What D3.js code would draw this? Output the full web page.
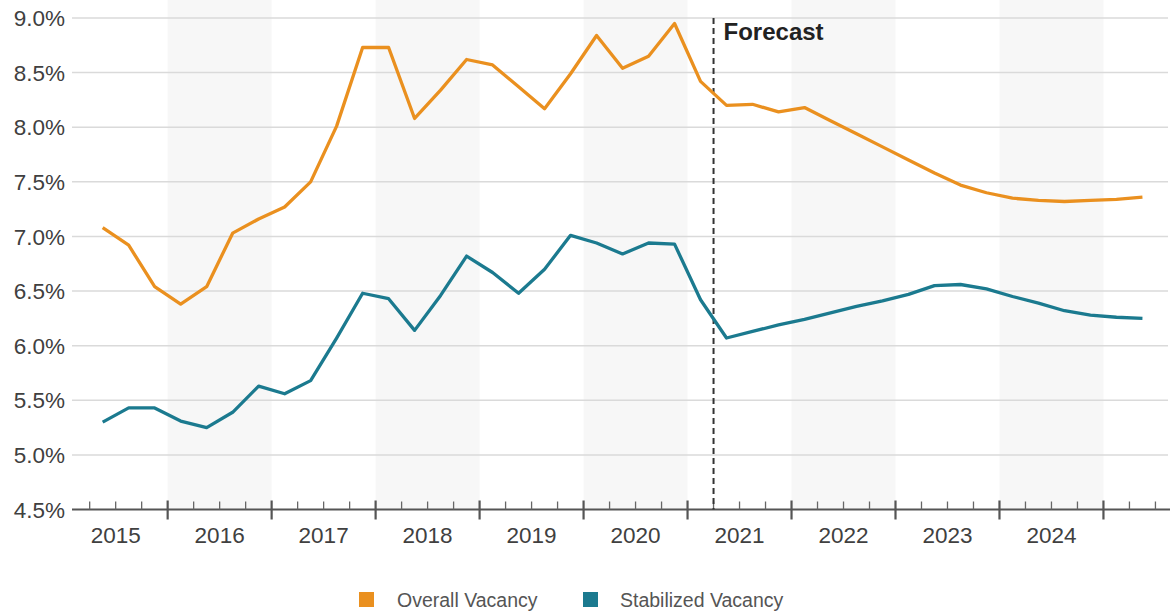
<!DOCTYPE html>
<html>
<head>
<meta charset="utf-8">
<script src="https://cdn.jsdelivr.net/npm/d3@7"></script>
<style>
  html, body { margin: 0; padding: 0; background: #fff; }
  svg { display: block; font-family: "Liberation Sans", Arial, sans-serif; }
</style>
</head>
<body>
<svg id="chart" width="1172" height="616"></svg>
<script>
// ---------- data ----------
const quarters = [
  "2015 Q2","2015 Q3","2015 Q4",
  "2016 Q1","2016 Q2","2016 Q3","2016 Q4",
  "2017 Q1","2017 Q2","2017 Q3","2017 Q4",
  "2018 Q1","2018 Q2","2018 Q3","2018 Q4",
  "2019 Q1","2019 Q2","2019 Q3","2019 Q4",
  "2020 Q1","2020 Q2","2020 Q3","2020 Q4",
  "2021 Q1","2021 Q2","2021 Q3","2021 Q4",
  "2022 Q1","2022 Q2","2022 Q3","2022 Q4",
  "2023 Q1","2023 Q2","2023 Q3","2023 Q4",
  "2024 Q1","2024 Q2","2024 Q3","2024 Q4",
  "2025 Q1","2025 Q2"
];
const overallVacancy = [
  7.08, 6.92, 6.54,
  6.38, 6.54, 7.03, 7.16,
  7.27, 7.50, 8.01, 8.73,
  8.73, 8.08, 8.34, 8.62,
  8.57, 8.37, 8.17, 8.49,
  8.84, 8.54, 8.65, 8.95,
  8.42, 8.20, 8.21, 8.14,
  8.18, 8.06, 7.94, 7.82,
  7.70, 7.58, 7.47, 7.40,
  7.35, 7.33, 7.32, 7.33,
  7.34, 7.36
];
const stabilizedVacancy = [
  5.30, 5.43, 5.43,
  5.31, 5.25, 5.39, 5.63,
  5.56, 5.68, 6.07, 6.48,
  6.43, 6.14, 6.46, 6.82,
  6.67, 6.48, 6.70, 7.01,
  6.94, 6.84, 6.94, 6.93,
  6.42, 6.07, 6.13, 6.19,
  6.24, 6.30, 6.36, 6.41,
  6.47, 6.55, 6.56, 6.52,
  6.45, 6.39, 6.32, 6.28,
  6.26, 6.25
];
const yearLabels = ["2015","2016","2017","2018","2019","2020","2021","2022","2023","2024"];
const shadedYears = ["2016","2018","2020","2022","2024"];
const yTicks = [4.5, 5.0, 5.5, 6.0, 6.5, 7.0, 7.5, 8.0, 8.5, 9.0];
const forecastStart = "2021 Q2";
const seriesNames = ["Overall Vacancy", "Stabilized Vacancy"];
const seriesColors = ["#EA901F", "#1B7A8F"];

// ---------- helpers ----------
function qStart(s) { const [y, q] = s.split(" Q"); return +y + (+q - 1) / 4; }
function qMid(s) { return qStart(s) + 0.125; }

const svg = d3.select("#chart");
const x = d3.scaleLinear().domain([2015.08, 2025.64]).range([72, 1170]);
const y = d3.scaleLinear().domain([4.5, 9.0]).range([509.5, 18]);

// shaded alternate years
svg.append("g").selectAll("rect").data(shadedYears).join("rect")
  .attr("x", d => x(+d)).attr("width", d => x(+d + 1) - x(+d))
  .attr("y", 0).attr("height", y(4.5))
  .attr("fill", "#f7f7f7");

// gridlines
svg.append("g").selectAll("line").data(yTicks.filter(v => v > 4.5)).join("line")
  .attr("x1", 72).attr("x2", 1168)
  .attr("y1", d => y(d)).attr("y2", d => y(d))
  .attr("stroke", "#dadada").attr("stroke-width", 1.5);

// y labels
svg.append("g").selectAll("text").data(yTicks).join("text")
  .attr("x", 65).attr("y", d => y(d)).attr("dy", "0.36em")
  .attr("text-anchor", "end")
  .attr("font-size", 22.5).attr("fill", "#404040")
  .text(d => d.toFixed(1) + "%");

// x axis
const axisG = svg.append("g");
axisG.append("line")
  .attr("x1", x(2015.08)).attr("x2", x(2025.64))
  .attr("y1", y(4.5)).attr("y2", y(4.5))
  .attr("stroke", "#555").attr("stroke-width", 2);
const majorTicks = d3.range(2016, 2026);
axisG.selectAll("line.major").data(majorTicks).join("line").attr("class", "major")
  .attr("x1", d => x(d)).attr("x2", d => x(d))
  .attr("y1", y(4.5) - 9).attr("y2", y(4.5) + 10)
  .attr("stroke", "#555").attr("stroke-width", 2.2);
const minorTicks = [];
for (let yr = 2015; yr <= 2025; yr++) {
  for (const f of [0.25, 0.5, 0.75]) {
    const v = yr + f;
    if (v <= 2025.6) minorTicks.push(v);
  }
}
axisG.selectAll("line.minor").data(minorTicks).join("line").attr("class", "minor")
  .attr("x1", d => x(d)).attr("x2", d => x(d))
  .attr("y1", y(4.5) - 8).attr("y2", y(4.5))
  .attr("stroke", "#666").attr("stroke-width", 1.3);
axisG.selectAll("text").data(yearLabels).join("text")
  .attr("x", d => x(+d + 0.5)).attr("y", 543)
  .attr("text-anchor", "middle")
  .attr("font-size", 22.5).attr("fill", "#404040")
  .text(d => d);

// forecast line
const fx = x(qStart(forecastStart));
svg.append("line")
  .attr("x1", fx).attr("x2", fx).attr("y1", y(9.0)).attr("y2", y(4.5))
  .attr("stroke", "#333").attr("stroke-width", 2)
  .attr("stroke-dasharray", "6,4");
svg.append("text")
  .attr("x", fx + 10).attr("y", 40)
  .attr("font-size", 24).attr("font-weight", "bold").attr("fill", "#222")
  .text("Forecast");

// lines
const line = d3.line().x(d => x(qMid(d[0]))).y(d => y(d[1]));
[overallVacancy, stabilizedVacancy].forEach((vals, i) => {
  svg.append("path")
    .datum(quarters.map((q, j) => [q, vals[j]]))
    .attr("d", line)
    .attr("fill", "none")
    .attr("stroke", seriesColors[i])
    .attr("stroke-width", 3.3)
    .attr("stroke-linejoin", "round");
});

// legend
const legendPos = [{sx: 359, tx: 397}, {sx: 583, tx: 620}];
const lg = svg.append("g");
seriesNames.forEach((name, i) => {
  lg.append("rect").attr("x", legendPos[i].sx).attr("y", 592)
    .attr("width", 15).attr("height", 15).attr("fill", seriesColors[i]);
  lg.append("text").attr("x", legendPos[i].tx).attr("y", 607)
    .attr("font-size", 19.5).attr("fill", "#555").text(name);
});
</script>
</body>
</html>
